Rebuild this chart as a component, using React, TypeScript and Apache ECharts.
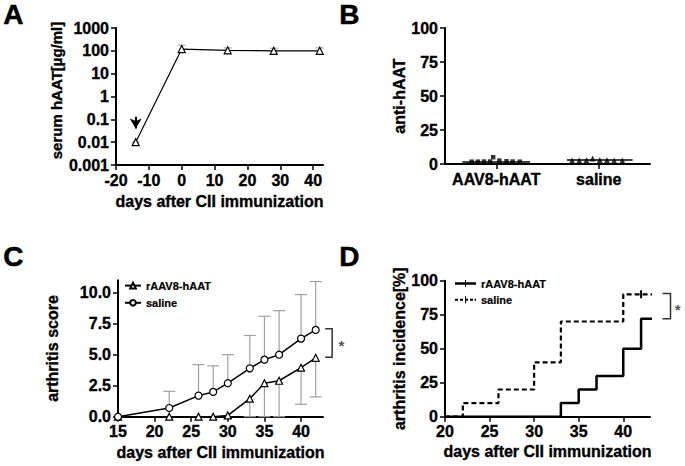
import React, { useEffect, useRef } from "react";
import * as echarts from "echarts";

const FONT = "Liberation Sans, Arial, Helvetica, sans-serif";

// Panel A
const aDays = [-14, 0, 14, 28, 42];
const aHAAT = [0.01, 120, 105, 100, 100];
const aErrHigh = [0.01, 175, 135, 130, 135];
const aXTicks = [-20, -10, 0, 10, 20, 30, 40];
const aYTicks = [0.001, 0.01, 0.1, 1, 10, 100, 1000];
const aYLabels = ["0.001", "0.01", "0.1", "1", "10", "100", "1000"];
const aArrow = { day: -14, from: 0.13, to: 0.04 };

// Panel B
const bCategories = ["AAV8-hAAT", "saline"];
const bCatPos = [0.5, 1.5];
const bAavX = [0.26, 0.32, 0.38, 0.44, 0.47, 0.53, 0.6, 0.66, 0.73];
const bAavY = [1.7, 1.7, 1.8, 1.8, 5.0, 2.5, 2.0, 1.8, 1.7];
const bSalX = [1.24, 1.31, 1.38, 1.44, 1.51, 1.58, 1.65, 1.73];
const bSalY = [2.6, 2.6, 2.8, 4.0, 3.0, 2.7, 2.6, 2.6];
const bAavMean = { x0: 0.17, x1: 0.83, y: 1.5 };
const bSalMean = { x0: 1.19, x1: 1.83, y: 3.0 };
const bYTicks = [0, 25, 50, 75, 100];

// Panel C
const cDaysAav = [15, 22, 26, 28, 30, 33, 35, 37, 40, 42];
const cScoreAav = [0, 0, 0, 0, 0.1, 1.45, 2.7, 2.9, 3.95, 4.75];
const cErrAavDays = [33, 35, 37, 40, 42];
const cErrAavLow = [0, 0, 0, 1.0, 1.6];
const cDaysSal = [15, 22, 26, 28, 30, 33, 35, 37, 40, 42];
const cScoreSal = [0, 0.7, 1.7, 2.0, 2.7, 3.9, 4.6, 5.0, 6.3, 7.0];
const cErrSalHigh = [0, 2.05, 4.2, 4.1, 5.0, 6.55, 8.1, 8.55, 9.85, 10.9];
const cXTicks = [15, 20, 25, 30, 35, 40];
const cYTicks = [0, 2.5, 5, 7.5, 10];
const cBracket = [43.3, 44.25, 7.1, 4.8];
const cStar = [45.5, 5.95];

// Panel D
const dDaysAav = [20, 33, 35, 37, 40, 42, 43.4];
const dIncAav = [0, 10, 20, 30, 50, 72, 72];
const dDaysSal = [20, 22, 26, 30, 33, 40, 42, 43.4];
const dIncSal = [0, 10, 20, 40, 70, 90, 90, 90];
const dCensorSal = [42];
const dXTicks = [20, 25, 30, 35, 40];
const dYTicks = [0, 25, 50, 75, 100];
const dBracket = [44.4, 45.3, 90.5, 72];
const dStar = [46.1, 81];

const ICON_SOLID =
  "path://M0,5.5 L20,5.5 L20,1 L22,1 L22,5.5 L42,5.5 L42,10.5 L22,10.5 L22,15 L20,15 L20,10.5 L0,10.5 Z";
const ICON_DASHED =
  "path://M0,6 h6 v4 h-6 Z M10,6 h6 v4 h-6 Z M20,1 h2 v14 h-2 Z M20,6 h6 v4 h-6 Z M30,6 h6 v4 h-6 Z M39,6 h3 v4 h-3 Z";

const HEAVY = { textBorderColor: "#000", textBorderWidth: 0.35 };
const LBL = { color: "#000", fontWeight: "bold", fontSize: 16, fontFamily: FONT, margin: 7, ...HEAVY };
const TICK = { show: true, length: 5, lineStyle: { color: "#000", width: 1.5 } };
const NAME = { color: "#000", fontWeight: "bold", fontSize: 16, fontFamily: FONT, ...HEAVY };

const axisBase = (extra: any) => ({
  axisLine: { show: true, onZero: false, lineStyle: { color: "#000", width: 2 } },
  axisTick: TICK,
  axisLabel: LBL,
  splitLine: { show: false },
  nameLocation: "middle",
  nameTextStyle: NAME,
  ...extra,
});

function errRender(color: string, capHalf: number) {
  return (params: any, api: any) => {
    const x = api.value(0);
    const p0 = api.coord([x, api.value(1)]);
    const p1 = api.coord([x, api.value(2)]);
    const style = { stroke: color, lineWidth: 1.2, fill: null };
    return {
      type: "group",
      children: [
        { type: "line", shape: { x1: p0[0], y1: p0[1], x2: p1[0], y2: p1[1] }, style },
        { type: "line", shape: { x1: p1[0] - capHalf, y1: p1[1], x2: p1[0] + capHalf, y2: p1[1] }, style },
      ],
    };
  };
}

function bracketRender(params: any, api: any) {
  const x0 = api.value(0), x1 = api.value(1), yt = api.value(2), yb = api.value(3);
  const a = api.coord([x0, yt]);
  const b = api.coord([x1, yt]);
  const c = api.coord([x1, yb]);
  const d = api.coord([x0, yb]);
  return {
    type: "polyline",
    shape: { points: [a, b, c, d] },
    style: { stroke: "#333", lineWidth: 1.5, fill: null },
  };
}

export default function App() {
  const ref = useRef<HTMLDivElement>(null);
  useEffect(() => {
    if (!ref.current) return;
    const chart = echarts.init(ref.current, null, { renderer: "svg" });
    const pick = (arr: number[], labels: string[]) => (v: number) => {
      const i = arr.findIndex(
        (t) => Math.abs(t - v) < 1e-6 * Math.max(1, Math.abs(t)) ||
          (t > 0 && v > 0 && Math.abs(Math.log10(t) - Math.log10(v)) < 1e-6)
      );
      return i >= 0 ? labels[i] : "";
    };
    const withSymbol = (x: number, y: number, censored: boolean) =>
      censored ? { value: [x, y] } : { value: [x, y], symbol: "none" };
    const starLabel = {
      show: true, position: "inside", formatter: "*", offset: [0, 3],
      color: "#222", fontSize: 15, fontWeight: "bold", fontFamily: FONT,
    };
    const legendText = { color: "#000", fontWeight: "bold", fontSize: 11, fontFamily: FONT, textBorderColor: "#000", textBorderWidth: 0.2 };
    const letter = (t: string, left: number, top: number) => ({
      type: "text", left, top,
      style: { text: t, font: `bold 28px ${FONT}`, fill: "#000", stroke: "#000", lineWidth: 0.5 },
    });

    const option: any = {
      animation: false,
      backgroundColor: "#fff",
      textStyle: { fontFamily: FONT },
      grid: [
        { left: 116, top: 28, width: 207, height: 137 },
        { left: 445, top: 28, width: 205, height: 136 },
        { left: 118, top: 280.3, width: 205, height: 136.4 },
        { left: 445, top: 280.7, width: 205, height: 136 },
      ],
      xAxis: [
        axisBase({
          type: "value", gridIndex: 0, min: -20, max: 43,
          name: "days after CII immunization", nameGap: 28,
          axisLabel: { ...LBL, customValues: aXTicks },
          axisTick: { ...TICK, customValues: aXTicks },
        }),
        axisBase({
          type: "value", gridIndex: 1, min: 0, max: 2,
          axisLabel: { ...LBL, customValues: bCatPos, formatter: pick(bCatPos, bCategories) },
          axisTick: { ...TICK, customValues: bCatPos },
        }),
        axisBase({
          type: "value", gridIndex: 2, min: 15, max: 43,
          name: "days after CII immunization", nameGap: 28,
          axisLabel: { ...LBL, customValues: cXTicks },
          axisTick: { ...TICK, customValues: cXTicks },
        }),
        axisBase({
          type: "value", gridIndex: 3, min: 20, max: 43,
          name: "days after CII immunization", nameGap: 27,
          axisLabel: { ...LBL, customValues: dXTicks },
          axisTick: { ...TICK, customValues: dXTicks },
        }),
      ],
      yAxis: [
        axisBase({
          type: "log", logBase: 10, gridIndex: 0, min: 0.001, max: 1000,
          name: "serum hAAT[µg/ml]", nameGap: 52,
          nameTextStyle: { ...NAME, fontSize: 15, padding: [0, 0, 0, 12] },
          axisLabel: { ...LBL, customValues: aYTicks, formatter: pick(aYTicks, aYLabels) },
          axisTick: { ...TICK, customValues: aYTicks },
        }),
        axisBase({
          type: "value", gridIndex: 1, min: 0, max: 100, interval: 25,
          name: "anti-hAAT", nameGap: 37,
          axisLabel: { ...LBL, customValues: bYTicks },
        }),
        axisBase({
          type: "value", gridIndex: 2, min: 0, max: 11,
          name: "arthritis score", nameGap: 58,
          axisLabel: { ...LBL, customValues: cYTicks, formatter: (v: number) => v.toFixed(1) },
          axisTick: { ...TICK, customValues: cYTicks },
        }),
        axisBase({
          type: "value", gridIndex: 3, min: 0, max: 100, interval: 25,
          name: "arthritis incidence[%]", nameGap: 36,
          axisLabel: { ...LBL, customValues: dYTicks },
        }),
      ],
      legend: [
        {
          data: ["C|rAAV8-hAAT", "C|saline"],
          formatter: (n: string) => n.split("|")[1],
          orient: "vertical", left: 124, top: 280, padding: 0,
          itemWidth: 16, itemHeight: 7, itemGap: 6,
          selectedMode: false, textStyle: legendText,
        },
        {
          data: [
            { name: "D|rAAV8-hAAT", icon: ICON_SOLID },
            { name: "D|saline", icon: ICON_DASHED },
          ],
          formatter: (n: string) => n.split("|")[1],
          orient: "vertical", left: 455, top: 278, padding: 0,
          itemWidth: 21, itemHeight: 8, itemGap: 5,
          selectedMode: false, textStyle: legendText,
        },
      ],
      graphic: [letter("A", 3, 0), letter("B", 339, 0), letter("C", 3, 242), letter("D", 339, 242)],
      series: [
        // A
        {
          type: "custom", xAxisIndex: 0, yAxisIndex: 0, z: 1,
          renderItem: errRender("#aaa", 4),
          data: aDays.map((d, i) => [d, aHAAT[i], aErrHigh[i]]),
        },
        {
          type: "line", xAxisIndex: 0, yAxisIndex: 0, z: 3,
          data: aDays.map((d, i) => [d, aHAAT[i]]),
          symbol: "triangle", symbolSize: 7,
          itemStyle: { color: "#fff", borderColor: "#000", borderWidth: 1.2 },
          lineStyle: { color: "#000", width: 1.2 },
          markLine: {
            silent: true, symbol: ["none", "arrow"], symbolSize: [9, 10],
            lineStyle: { color: "#000", width: 2, type: "solid" },
            label: { show: false },
            data: [[{ coord: [aArrow.day, aArrow.from] }, { coord: [aArrow.day, aArrow.to] }]],
          },
        },
        // B
        {
          type: "line", xAxisIndex: 1, yAxisIndex: 1, symbol: "none",
          lineStyle: { color: "#000", width: 1.5 },
          data: [[bAavMean.x0, bAavMean.y], [bAavMean.x1, bAavMean.y]],
        },
        {
          type: "line", xAxisIndex: 1, yAxisIndex: 1, symbol: "none",
          lineStyle: { color: "#000", width: 1.5 },
          data: [[bSalMean.x0, bSalMean.y], [bSalMean.x1, bSalMean.y]],
        },
        {
          type: "scatter", xAxisIndex: 1, yAxisIndex: 1, symbol: "rect", symbolSize: 4.5, z: 4,
          itemStyle: { color: "#000" },
          data: bAavX.map((x, i) => [x, bAavY[i]]),
        },
        {
          type: "scatter", xAxisIndex: 1, yAxisIndex: 1, symbol: "triangle", symbolSize: 6, z: 4,
          itemStyle: { color: "#000" },
          data: bSalX.map((x, i) => [x, bSalY[i]]),
        },
        // C
        {
          type: "custom", xAxisIndex: 2, yAxisIndex: 2, z: 1,
          renderItem: errRender("#a0a0a0", 6),
          data: cDaysSal.slice(1).map((d, i) => [d, cScoreSal[i + 1], cErrSalHigh[i + 1]]),
        },
        {
          type: "custom", xAxisIndex: 2, yAxisIndex: 2, z: 1,
          renderItem: errRender("#a0a0a0", 6),
          data: cErrAavDays.map((d, i) => [d, cScoreAav[cDaysAav.indexOf(d)], cErrAavLow[i]]),
        },
        {
          name: "C|rAAV8-hAAT", type: "line", xAxisIndex: 2, yAxisIndex: 2, z: 3,
          data: cDaysAav.map((d, i) => [d, cScoreAav[i]]),
          symbol: "triangle", symbolSize: 7,
          itemStyle: { color: "#fff", borderColor: "#000", borderWidth: 1.2 },
          lineStyle: { color: "#000", width: 1.5 },
        },
        {
          name: "C|saline", type: "line", xAxisIndex: 2, yAxisIndex: 2, z: 3,
          data: cDaysSal.map((d, i) => [d, cScoreSal[i]]),
          symbol: "circle", symbolSize: 7,
          itemStyle: { color: "#fff", borderColor: "#000", borderWidth: 1.2 },
          lineStyle: { color: "#000", width: 1.5 },
        },
        {
          type: "custom", xAxisIndex: 2, yAxisIndex: 2, clip: false,
          renderItem: bracketRender,
          data: [cBracket],
        },
        {
          type: "scatter", xAxisIndex: 2, yAxisIndex: 2, symbolSize: 1, clip: false,
          itemStyle: { color: "transparent" }, label: starLabel,
          data: [cStar],
        },
        // D
        {
          name: "D|rAAV8-hAAT", type: "line", xAxisIndex: 3, yAxisIndex: 3, step: "end", clip: false,
          symbol: "rect", symbolSize: [2, 8],
          itemStyle: { color: "#000" },
          lineStyle: { color: "#000", width: 2.5 },
          data: dDaysAav.map((d, i) => withSymbol(d, dIncAav[i], false)),
        },
        {
          name: "D|saline", type: "line", xAxisIndex: 3, yAxisIndex: 3, step: "end", clip: false,
          symbol: "rect", symbolSize: [2, 8],
          itemStyle: { color: "#000" },
          lineStyle: { color: "#000", width: 2.2, type: [5, 3] },
          data: dDaysSal.map((d, i) =>
            withSymbol(d, dIncSal[i], dCensorSal.includes(d) && i < dDaysSal.length - 1)
          ),
        },
        {
          type: "custom", xAxisIndex: 3, yAxisIndex: 3, clip: false,
          renderItem: bracketRender,
          data: [dBracket],
        },
        {
          type: "scatter", xAxisIndex: 3, yAxisIndex: 3, symbolSize: 1, clip: false,
          itemStyle: { color: "transparent" }, label: starLabel,
          data: [dStar],
        },
      ],
    };
    chart.setOption(option);
    return () => chart.dispose();
  }, []);
  return (
    <div
      ref={ref}
      style={{ position: "absolute", left: 0, top: 0, width: 685, height: 466, background: "#fff" }}
    />
  );
}
